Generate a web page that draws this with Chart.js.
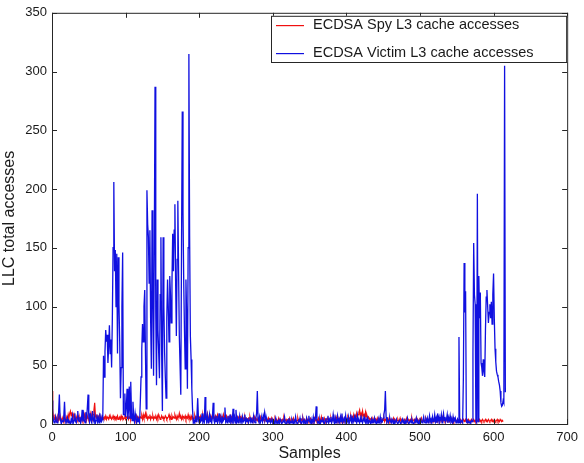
<!DOCTYPE html>
<html>
<head>
<meta charset="utf-8">
<script src="https://cdn.jsdelivr.net/npm/chart.js@4.4.1/dist/chart.umd.min.js"></script>
<style>
  html, body { margin: 0; padding: 0; background: #fff; }
  #wrap { width: 584px; height: 463px; }
</style>
</head>
<body>
<div id="wrap"><canvas id="llcChart" width="584" height="463"></canvas></div>
<script>
// L3 accesses per sample (index = sample number)
const victimAccesses = [
    20, 8, 3, 1, 2, 6, 2, 1, 4, 10, 25, 5, 2, 1, 3, 2, 6, 19, 4, 1,
    2, 5, 1, 3, 2, 0, 4, 2, 7, 1, 3, 9, 2, 1, 5, 11, 3, 2, 6, 1,
    4, 12, 2, 8, 3, 1, 10, 4, 14, 25, 6, 2, 9, 3, 1, 11, 4, 2, 7, 1,
    3, 8, 2, 5, 1, 9, 3, 2, 6, 4, 58, 40, 62, 80, 70, 76, 52, 66, 84, 60,
    72, 48, 90, 150, 206, 130, 148, 100, 145, 60, 142, 102, 70, 22, 48, 100, 146, 8, 8, 26,
    6, 14, 30, 4, 12, 32, 5, 36, 10, 3, 19, 6, 2, 9, 4, 1, 5, 2, 3, 1,
    19, 40, 64, 85, 70, 100, 114, 60, 13, 199, 170, 159, 120, 165, 90, 47, 182, 110, 41, 150,
    287, 95, 33, 123, 80, 60, 39, 110, 159, 60, 11, 159, 100, 61, 40, 22, 90, 123, 100, 70,
    126, 110, 86, 120, 162, 130, 165, 187, 120, 75, 140, 190, 130, 75, 50, 25, 150, 266, 180, 120,
    80, 47, 123, 90, 30, 150, 315, 160, 75, 55, 30, 12, 1, 3, 1, 5, 2, 8, 22, 4,
    1, 6, 2, 3, 9, 1, 4, 2, 23, 5, 2, 7, 1, 3, 8, 2, 4, 1, 6, 18,
    3, 1, 5, 2, 7, 1, 3, 9, 2, 4, 1, 6, 2, 3, 5, 14, 2, 4, 1, 7,
    3, 2, 8, 1, 4, 2, 13, 3, 6, 1, 12, 2, 5, 1, 3, 7, 2, 4, 1, 6,
    2, 3, 8, 1, 4, 2, 5, 1, 3, 6, 2, 4, 1, 3, 7, 2, 1, 5, 9, 28,
    4, 2, 6, 1, 3, 5, 2, 7, 4, 10, 6, 2, 4, 1, 3, 2, 5, 1, 2, 4,
    1, 3, 0, 2, 5, 1, 2, 0, 3, 1, 4, 2, 0, 1, 3, 2, 6, 1, 0, 2,
    3, 1, 5, 0, 2, 1, 4, 2, 0, 3, 1, 6, 2, 0, 1, 3, 2, 5, 1, 0,
    2, 4, 1, 3, 0, 2, 5, 1, 3, 7, 2, 1, 4, 0, 2, 6, 1, 3, 5, 15,
    3, 1, 2, 0, 4, 1, 3, 2, 6, 1, 0, 3, 5, 1, 2, 7, 1, 4, 2, 6,
    1, 3, 8, 2, 0, 5, 1, 3, 7, 2, 4, 1, 6, 2, 9, 1, 3, 5, 2, 7,
    1, 4, 2, 6, 1, 3, 8, 2, 5, 1, 3, 6, 2, 4, 1, 7, 2, 3, 1, 5,
    2, 4, 1, 3, 6, 2, 1, 4, 2, 5, 1, 3, 2, 0, 4, 1, 3, 2, 5, 1,
    2, 0, 3, 1, 4, 2, 6, 1, 3, 2, 5, 8, 12, 28, 6, 2, 4, 1, 3, 5,
    2, 1, 4, 2, 0, 3, 1, 2, 4, 1, 0, 2, 3, 1, 0, 2, 4, 1, 2, 0,
    3, 1, 2, 5, 1, 0, 2, 3, 1, 4, 2, 0, 1, 3, 2, 5, 1, 2, 0, 3,
    1, 4, 2, 1, 3, 6, 2, 1, 4, 2, 5, 1, 3, 7, 2, 4, 1, 6, 2, 3,
    8, 2, 5, 1, 9, 3, 6, 2, 4, 8, 1, 5, 9, 3, 6, 2, 4, 8, 1, 5,
    3, 7, 2, 4, 1, 6, 2, 3, 5, 1, 2, 4, 1, 74, 2, 1, 3, 2, 1, 40,
    137, 95, 113, 2, 1, 3, 2, 1, 2, 1, 3, 2, 60, 154, 110, 102, 2, 1, 196, 2,
    126, 90, 112, 52, 48, 41, 55, 45, 40, 80, 108, 114, 100, 86, 95, 102, 90, 104, 85, 110,
    128, 90, 64, 53, 45, 42, 40, 36, 33, 28, 18, 15, 16, 20, 18, 305, 27
];

const spyAccesses = [
    28, 12, 6, 4, 8, 3, 5, 2, 6, 4, 7, 3, 5, 2, 4, 6, 3, 5, 2, 4,
    6, 3, 8, 5, 9, 11, 7, 10, 6, 8, 4, 6, 3, 5, 7, 4, 6, 3, 5, 2,
    4, 6, 3, 5, 8, 4, 6, 3, 7, 5, 4, 6, 9, 5, 7, 4, 8, 12, 18, 7,
    5, 8, 4, 6, 3, 7, 5, 4, 6, 5, 4, 6, 5, 7, 4, 6, 5, 4, 7, 5,
    6, 4, 5, 7, 5, 6, 4, 6, 5, 7, 4, 5, 6, 4, 7, 5, 6, 4, 5, 6,
    4, 6, 5, 7, 4, 6, 5, 4, 7, 5, 6, 4, 5, 6, 4, 7, 5, 6, 4, 5,
    6, 5, 7, 4, 8, 5, 6, 9, 5, 7, 4, 6, 5, 8, 4, 6, 5, 7, 4, 6,
    5, 6, 4, 7, 5, 8, 6, 4, 5, 7, 5, 6, 4, 5, 7, 6, 4, 5, 6, 8,
    5, 6, 4, 7, 5, 6, 5, 8, 6, 4, 7, 5, 6, 9, 5, 6, 4, 7, 5, 6,
    5, 7, 4, 6, 5, 8, 5, 6, 4, 7, 5, 6, 4, 5, 7, 4, 6, 5, 8, 4,
    6, 5, 7, 4, 6, 8, 5, 7, 4, 6, 5, 9, 6, 4, 7, 5, 6, 4, 8, 5,
    6, 4, 7, 5, 6, 8, 4, 6, 5, 7, 4, 6, 5, 8, 4, 6, 5, 7, 5, 4,
    6, 5, 7, 4, 6, 5, 8, 4, 6, 5, 4, 7, 5, 6, 4, 5, 6, 4, 5, 3,
    5, 4, 6, 3, 5, 4, 3, 5, 4, 6, 3, 4, 5, 3, 4, 6, 3, 5, 4, 3,
    5, 3, 4, 6, 3, 4, 5, 3, 4, 2, 5, 3, 4, 3, 5, 2, 4, 3, 5, 2,
    4, 3, 2, 5, 3, 4, 2, 3, 5, 2, 4, 3, 2, 4, 3, 5, 2, 3, 4, 2,
    3, 4, 2, 5, 3, 2, 4, 3, 5, 2, 3, 4, 2, 3, 5, 2, 4, 3, 2, 4,
    3, 5, 2, 4, 3, 2, 5, 3, 4, 2, 3, 5, 4, 2, 3, 4, 2, 5, 3, 4,
    2, 3, 5, 2, 4, 3, 6, 2, 4, 3, 5, 3, 2, 4, 5, 3, 2, 4, 3, 5,
    2, 4, 3, 5, 2, 4, 6, 3, 4, 2, 5, 3, 4, 6, 3, 5, 2, 4, 3, 5,
    4, 3, 6, 4, 5, 3, 7, 4, 6, 5, 8, 4, 7, 5, 9, 6, 8, 10, 12, 7,
    9, 6, 11, 7, 8, 5, 10, 6, 7, 4, 6, 5, 3, 4, 5, 3, 4, 2, 5, 3,
    4, 3, 5, 2, 4, 3, 5, 3, 2, 4, 3, 5, 2, 4, 3, 2, 4, 3, 5, 2,
    3, 4, 2, 3, 5, 2, 4, 3, 2, 3, 4, 2, 3, 5, 2, 3, 4, 2, 3, 4,
    2, 3, 5, 2, 4, 3, 2, 4, 3, 5, 2, 3, 4, 2, 3, 5, 2, 4, 3, 2,
    4, 3, 5, 2, 3, 4, 2, 3, 5, 3, 2, 4, 3, 5, 2, 4, 3, 2, 4, 3,
    5, 2, 3, 4, 2, 5, 3, 2, 4, 3, 2, 5, 3, 4, 2, 3, 4, 2, 3, 5,
    2, 3, 4, 2, 3, 5, 2, 4, 3, 2, 3, 4, 2, 3, 2, 4, 3, 2, 3, 4,
    2, 3, 4, 2, 3, 2, 4, 3, 2, 3, 4, 2, 3, 4, 2, 3, 2, 4, 3, 2,
    3, 4, 2, 3, 2, 4, 3, 2, 3, 4, 2, 3, 2, 4, 3, 2, 3, 4, 2, 3,
    2, 4, 3, 2, 3, 4, 2, 3, 2, 4, 3, 2, 3, 2
];

const seriesNames = ["ECDSA Spy L3 cache accesses", "ECDSA Victim L3 cache accesses"];
const seriesColors = ["#f01010", "#1010e0"];
const xTicks = [0, 100, 200, 300, 400, 500, 600, 700];
const yTicks = [0, 50, 100, 150, 200, 250, 300, 350];

const FONT = "'Liberation Sans', Arial, Helvetica, sans-serif";

function toPoints(values) {
    return values.map((v, i) => ({ x: i, y: v }));
}

// box around the plot with MATLAB style inward ticks
const framePlugin = {
    id: "frame",
    afterDatasetsDraw(chart) {
        const { ctx, chartArea: a, scales } = chart;
        ctx.save();
        ctx.strokeStyle = "#262626";
        ctx.lineWidth = 1;
        ctx.strokeRect(a.left + 0.5, a.top + 0.5, a.right - a.left, a.bottom - a.top);
        ctx.beginPath();
        xTicks.forEach(v => {
            const px = Math.round(scales.x.getPixelForValue(v)) + 0.5;
            ctx.moveTo(px, a.bottom); ctx.lineTo(px, a.bottom - 5);
            ctx.moveTo(px, a.top); ctx.lineTo(px, a.top + 5);
        });
        yTicks.forEach(v => {
            const py = Math.round(scales.y.getPixelForValue(v)) + 0.5;
            ctx.moveTo(a.left, py); ctx.lineTo(a.left + 5, py);
            ctx.moveTo(a.right, py); ctx.lineTo(a.right - 5, py);
        });
        ctx.stroke();
        ctx.restore();
    }
};

// boxed legend in the top right corner
const legendBoxPlugin = {
    id: "legendBox",
    afterDraw(chart) {
        const { ctx, chartArea: a } = chart;
        const left = 271, top = a.top + 3, right = a.right, bottom = 62;
        ctx.save();
        ctx.fillStyle = "#fff";
        ctx.fillRect(left, top, right - left, bottom - top);
        ctx.strokeStyle = "#262626";
        ctx.lineWidth = 1;
        ctx.strokeRect(left + 0.5, top + 0.5, right - left - 1, bottom - top);
        ctx.font = "14.5px " + FONT;
        ctx.textBaseline = "middle";
        const rows = [25, 53];
        seriesNames.forEach((name, i) => {
            ctx.fillStyle = seriesColors[i];
            ctx.fillRect(276, rows[i], 28, 1.2);
            ctx.fillStyle = "#1a1a1a";
            ctx.fillText(name, 313, rows[i]);
        });
        ctx.restore();
    }
};

const ctx = document.getElementById("llcChart").getContext("2d");
new Chart(ctx, {
    type: "line",
    data: {
        datasets: [
            {
                label: seriesNames[0],
                data: toPoints(spyAccesses),
                borderColor: seriesColors[0],
                borderWidth: 1.2,
                pointRadius: 0,
                tension: 0,
                order: 2
            },
            {
                label: seriesNames[1],
                data: toPoints(victimAccesses),
                borderColor: seriesColors[1],
                borderWidth: 1.3,
                pointRadius: 0,
                tension: 0,
                order: 1
            }
        ]
    },
    options: {
        responsive: false,
        animation: false,
        events: [],
        layout: { padding: { left: 0, right: 10, top: 10, bottom: 0 } },
        plugins: {
            legend: { display: false },
            tooltip: { enabled: false }
        },
        scales: {
            x: {
                type: "linear",
                min: 0,
                max: 700,
                afterBuildTicks: axis => { axis.ticks = xTicks.map(v => ({ value: v })); },
                afterFit: axis => { axis.height = 39; },
                grid: { display: false, drawTicks: false },
                border: { display: false },
                ticks: { color: "#1a1a1a", font: { family: FONT, size: 13 }, padding: 6, maxRotation: 0 },
                title: { display: true, text: "Samples", color: "#1a1a1a", font: { family: FONT, size: 16 }, padding: { top: 0, bottom: 0 } }
            },
            y: {
                type: "linear",
                min: 0,
                max: 350,
                afterBuildTicks: axis => { axis.ticks = yTicks.map(v => ({ value: v })); },
                afterFit: axis => { axis.width = 52; },
                grid: { display: false, drawTicks: false },
                border: { display: false },
                ticks: { color: "#1a1a1a", font: { family: FONT, size: 13 }, padding: 5 },
                title: { display: true, text: "LLC total accesses", color: "#1a1a1a", font: { family: FONT, size: 16 }, padding: { top: 0, bottom: 3 } }
            }
        }
    },
    plugins: [framePlugin, legendBoxPlugin]
});
</script>
</body>
</html>
